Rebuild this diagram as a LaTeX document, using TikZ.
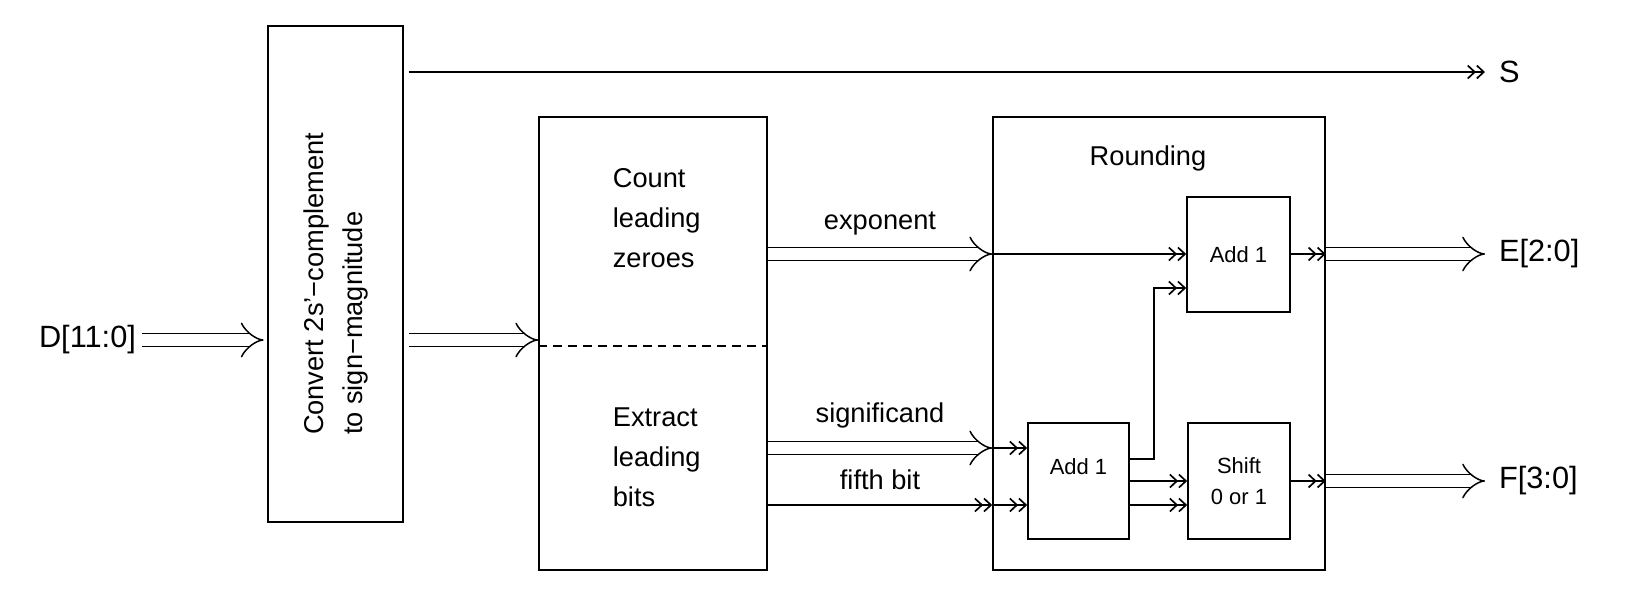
\documentclass[tikz,border=0pt]{standalone}
\usepackage{fontspec}
\setmainfont{Liberation Sans}
\usetikzlibrary{arrows.meta,positioning}

\begin{document}
\begin{tikzpicture}[x=0.02cm,y=-0.02cm,line width=0.95pt,
    blk/.style={draw,rectangle,inner sep=0pt},
    txt/.style={font=\fontsize{15.5}{22.7}\selectfont,inner sep=0pt},
    small/.style={font=\fontsize{12.5}{18}\selectfont,inner sep=0pt,align=center},
    io/.style={font=\fontsize{17.5}{20}\selectfont,inner ysep=0pt},
    wire/.style={draw,-{Straight Barb[length=1.4mm,width=2.6mm]Straight Barb[length=1.4mm,width=2.6mm]}},
    bus/.style={draw,double,double distance=6.3pt,line width=0.85pt,-{Implies}}]
    \useasboundingbox (0,0) rectangle (1646,606);
    % blocks
    \node[blk,minimum width=2.70cm,minimum height=9.92cm] (b_conv) at (335.5,274) {};
    \node[txt,rotate=90,align=left] (t_conv) at (336,284) {Convert 2s'−complement\\to sign−magnitude};
    \node[blk,minimum width=4.56cm,minimum height=9.06cm] (b_ext) at (653,343.5) {};
    \node[txt,align=left,anchor=west] (t_clz) at (612,218) {Count\\leading\\zeroes};
    \node[txt,align=left,anchor=west] (t_xlb) at (612,457) {Extract\\leading\\bits};
    \coordinate (split) at (653,346);
    \draw[dashed,dash pattern=on 5pt off 3.5pt] (b_ext.west |- split) -- (b_ext.east |- split);
    \node[blk,minimum width=6.64cm,minimum height=9.06cm] (b_rnd) at (1159,343.5) {};
    \node[txt] (t_rnd) at (1148,158) {Rounding};
    \node[blk,small,minimum width=2.06cm,minimum height=2.30cm] (b_add1) at (1238.5,254.5) {Add 1};
    \node[blk,minimum width=2.02cm,minimum height=2.32cm] (b_add2) at (1078.5,481) {};
    \node[small] (t_add2) at (1078.5,467) {Add 1};
    \node[blk,small,minimum width=2.04cm,minimum height=2.32cm] (b_shift) at (1239,481) {Shift\\0 or 1};
    % inputs and outputs
    \node[io,anchor=east,inner xsep=3pt] (lbl_D) at (142,340) {D[11:0]};
    \node[io,anchor=west,inner xsep=7.5pt] (lbl_S) at (1485,72) {S};
    \node[io,anchor=west,inner xsep=7.5pt] (lbl_E) at (1485,254) {E[2:0]};
    \node[io,anchor=west,inner xsep=7.5pt] (lbl_F) at (1485,481) {F[3:0]};
    \coordinate (y_sig) at (0,448);
    \coordinate (y_fif) at (0,505);
    \coordinate (y_cry) at (0,459);
    \coordinate (y_up) at (0,288);
    \coordinate (y_sh) at (0,481);
    % connectors
    \draw[bus,shorten >=2pt] (lbl_D.east) -- (lbl_D.east -| b_conv.west);
    \draw[bus,shorten <=0.1cm] (b_conv.east |- lbl_D.east) -- (b_ext.west |- lbl_D.east);
    \draw[wire,shorten <=0.1cm] (b_conv.east |- lbl_S.west) -- (lbl_S.west);
    \draw[bus] (b_ext.east |- lbl_E.west) -- node[txt,above=10.5pt] (t_exp) {exponent} (b_rnd.west |- lbl_E.west);
    \draw[wire] (b_rnd.west |- lbl_E.west) -- (b_add1.west |- lbl_E.west);
    \draw[bus] (b_ext.east |- y_sig) -- node[txt,above=11pt] (t_sig) {significand} (b_rnd.west |- y_sig);
    \draw[wire] (b_rnd.west |- y_sig) -- (b_add2.west |- y_sig);
    \draw[wire] (b_ext.east |- y_fif) -- node[txt,above=8pt] (t_fif) {fifth bit} (b_rnd.west |- y_fif);
    \draw[wire] (b_rnd.west |- y_fif) -- (b_add2.west |- y_fif);
    \draw[wire] (b_add2.east |- y_cry) -- ++(24,0) |- (b_add1.west |- y_up);
    \draw[wire] (b_add2.east |- y_sh) -- (b_shift.west |- y_sh);
    \draw[wire] (b_add2.east |- y_fif) -- (b_shift.west |- y_fif);
    \draw[wire] (b_add1.east |- lbl_E.west) -- (b_rnd.east |- lbl_E.west);
    \draw[wire] (b_shift.east |- y_sh) -- (b_rnd.east |- y_sh);
    \draw[bus] (b_rnd.east |- lbl_E.west) -- (lbl_E.west);
    \draw[bus] (b_rnd.east |- lbl_F.west) -- (lbl_F.west);
\end{tikzpicture}
\end{document}
